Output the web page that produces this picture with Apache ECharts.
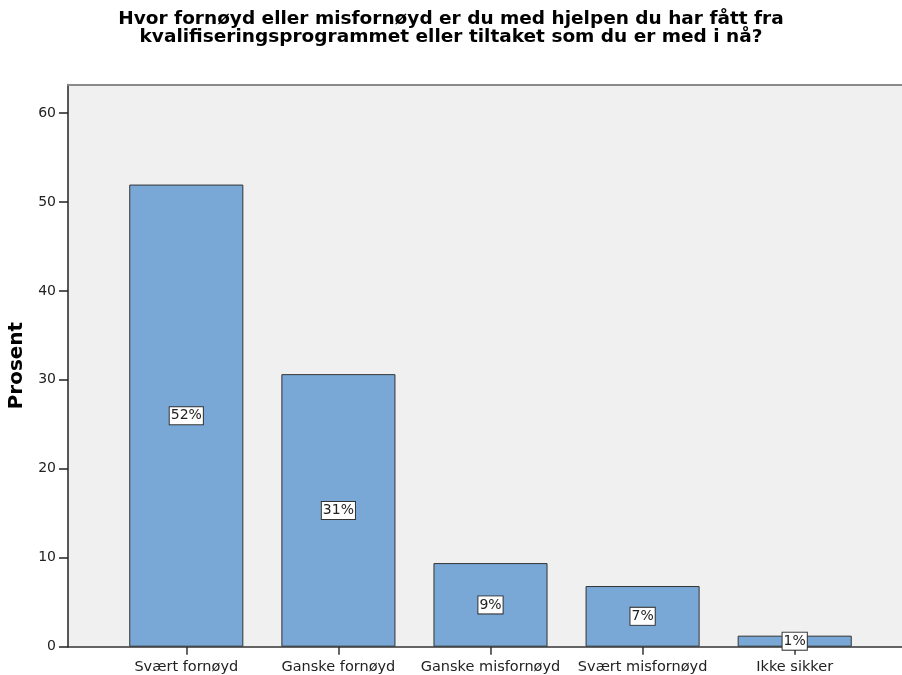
<!DOCTYPE html>
<html>
<head>
<meta charset="UTF-8">
<title>Prosent</title>
<script src="https://cdn.jsdelivr.net/npm/echarts@6/dist/echarts.min.js"></script>
<style>
  html, body { margin: 0; padding: 0; background: #fff; }
  #main { width: 902px; height: 675px; }
</style>
</head>
<body>
<div id="main"></div>
<script>
var categories = ['Svært fornøyd', 'Ganske fornøyd', 'Ganske misfornøyd', 'Svært misfornøyd', 'Ikke sikker'];
var prosent = [51.95, 30.64, 9.40, 6.82, 1.24];
var labels = ['52%', '31%', '9%', '7%', '1%'];
var yMax = 63.2;

var chart = echarts.init(document.getElementById('main'));
var font = '"DejaVu Sans", sans-serif';

var option = {
  animation: false,
  title: {
    text: 'Hvor fornøyd eller misfornøyd er du med hjelpen du har fått fra\nkvalifiseringsprogrammet eller tiltaket som du er med i nå?',
    left: 446,
    top: 5,
    textAlign: 'center',
    textStyle: { fontFamily: font, fontSize: 18.5, fontWeight: 'bold', color: '#000', lineHeight: 18 }
  },
  grid: [
    { left: 68, right: 0, top: 84.5, bottom: 28.3, show: true, backgroundColor: '#f0f0f0', borderWidth: 0,
      outerBoundsMode: 'none', containLabel: false },
    { left: 110.25, right: 31.25, top: 84.5, bottom: 28.3, outerBoundsMode: 'none', containLabel: false }
  ],
  xAxis: [
    { gridIndex: 0, type: 'value', position: 'bottom', min: 0, max: 1,
      axisLine: { show: true, lineStyle: { color: '#333', width: 1.5 } },
      axisTick: { show: false }, axisLabel: { show: false }, splitLine: { show: false } },
    { gridIndex: 0, type: 'value', position: 'top', min: 0, max: 1,
      axisLine: { show: true, lineStyle: { color: '#8a8a8a', width: 2 } },
      axisTick: { show: false }, axisLabel: { show: false }, splitLine: { show: false } },
    { gridIndex: 1, type: 'category', data: categories, position: 'bottom',
      axisLine: { show: false },
      axisTick: { show: true, alignWithLabel: true, length: 8, lineStyle: { color: '#333', width: 1.5 } },
      axisLabel: { fontFamily: font, fontSize: 14.5, color: '#222', margin: 13, interval: 0 } }
  ],
  yAxis: [
    { gridIndex: 0, type: 'value', min: 0, max: yMax, interval: 10,
      name: 'Prosent', nameLocation: 'middle', nameGap: 40, nameRotate: 90,
      nameTextStyle: { fontFamily: font, fontSize: 20, fontWeight: 'bold', color: '#000' },
      axisLine: { show: true, lineStyle: { color: '#222', width: 1.5 } },
      axisTick: { show: true, length: 9, lineStyle: { color: '#222', width: 1.5 } },
      axisLabel: { fontFamily: font, fontSize: 14, color: '#222', margin: 12,
        showMaxLabel: false },
      splitLine: { show: false } },
    { gridIndex: 1, type: 'value', min: 0, max: yMax, show: false }
  ],
  series: [{
    type: 'bar',
    xAxisIndex: 2,
    yAxisIndex: 1,
    data: prosent,
    barCategoryGap: '25%',
    itemStyle: { color: '#79a8d6', borderColor: '#333', borderWidth: 1 },
    label: {
      show: true,
      position: 'inside',
      formatter: function (p) { return labels[p.dataIndex]; },
      fontFamily: font, fontSize: 14, color: '#222',
      backgroundColor: '#fff', borderColor: '#333', borderWidth: 1,
      padding: [2, 1, 1, 1]
    }
  }]
};
chart.setOption(option);
</script>
</body>
</html>
